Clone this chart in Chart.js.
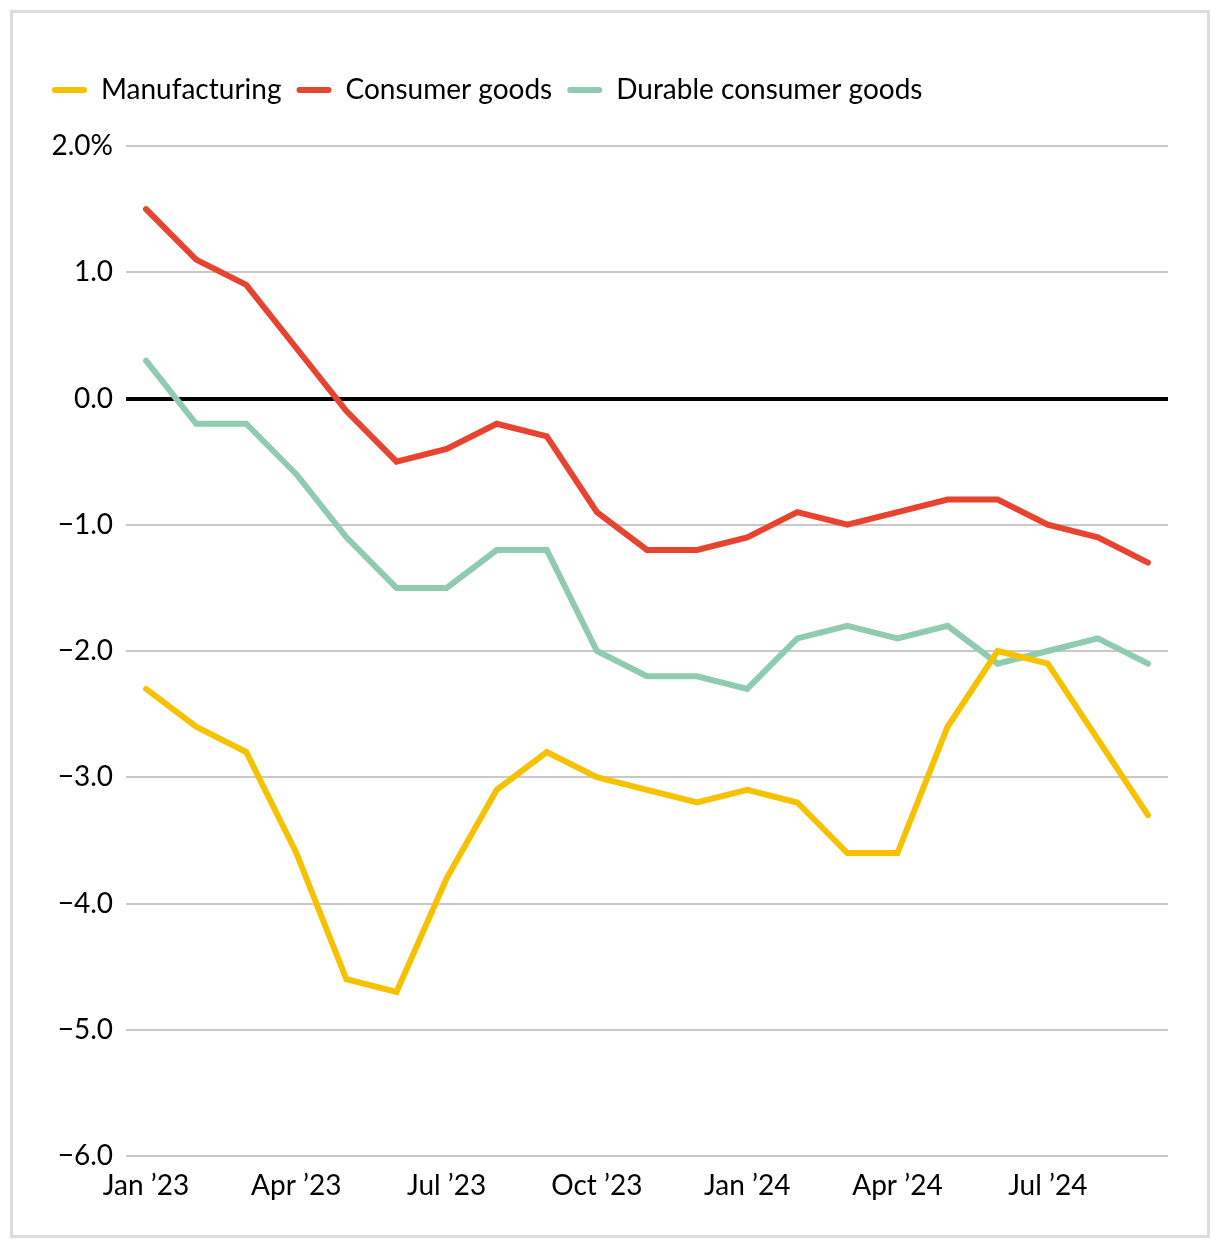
<!DOCTYPE html>
<html>
<head>
<meta charset="utf-8">
<script src="https://cdn.jsdelivr.net/npm/chart.js@4"></script>
<style>
  body { margin: 0; background: #fff; }
  #wrap {
    position: absolute; left: 10px; top: 10px;
    width: 1194px; height: 1222px;
    border: 3px solid #dcdcdc;
  }
</style>
</head>
<body>
<div id="wrap"><canvas id="chart" width="1194" height="1222"></canvas></div>
<script>
const months = [
  "Jan ’23", "Feb ’23", "Mar ’23", "Apr ’23", "May ’23", "Jun ’23", "Jul ’23",
  "Aug ’23", "Sep ’23", "Oct ’23", "Nov ’23", "Dec ’23", "Jan ’24", "Feb ’24",
  "Mar ’24", "Apr ’24", "May ’24", "Jun ’24", "Jul ’24", "Aug ’24", "Sep ’24"];

// every third month gets a label
const tickMonths = [0, 3, 6, 9, 12, 15, 18];

const manufacturing = [-2.3, -2.6, -2.8, -3.6, -4.6, -4.7, -3.8, -3.1, -2.8, -3.0, -3.1,
  -3.2, -3.1, -3.2, -3.6, -3.6, -2.6, -2.0, -2.1, -2.7, -3.3];
const consumerGoods = [1.5, 1.1, 0.9, 0.4, -0.1, -0.5, -0.4, -0.2, -0.3, -0.9, -1.2,
  -1.2, -1.1, -0.9, -1.0, -0.9, -0.8, -0.8, -1.0, -1.1, -1.3];
const durableGoods = [0.3, -0.2, -0.2, -0.6, -1.1, -1.5, -1.5, -1.2, -1.2, -2.0, -2.2,
  -2.2, -2.3, -1.9, -1.8, -1.9, -1.8, -2.1, -2.0, -1.9, -2.1];

const FONT = "Lato";

const toPoints = vals => vals.map((v, i) => ({x: i, y: v}));

const mkSet = (label, vals, color) => ({
  label: label,
  data: toPoints(vals),
  borderColor: color,
  backgroundColor: color,
  borderWidth: 6,
  pointRadius: 0,
  tension: 0,
  borderCapStyle: 'round',
  borderJoinStyle: 'miter'
});

// legend needs extra room below it
const legendSpace = {
  id: 'legendSpace',
  beforeInit(chart) {
    const fit = chart.legend.fit;
    chart.legend.fit = function () {
      fit.bind(chart.legend)();
      this.height += 32;
    };
  }
};

new Chart(document.getElementById('chart').getContext('2d'), {
  type: 'line',
  data: {
    datasets: [
      mkSet("Manufacturing", manufacturing, "#f6c200"),
      mkSet("Consumer goods", consumerGoods, "#e8432e"),
      mkSet("Durable consumer goods", durableGoods, "#8ecbb0")
    ]
  },
  plugins: [legendSpace],
  options: {
    responsive: false,
    animation: false,
    layout: {padding: {left: 24, right: 39, top: 48, bottom: 0}},
    plugins: {
      tooltip: {enabled: false},
      legend: {
        position: 'top',
        align: 'start',
        labels: {
          font: {family: FONT, size: 28},
          color: '#000',
          boxWidth: 35,
          boxHeight: 6,
          padding: 15,
          generateLabels: chart => chart.data.datasets.map((ds, i) => ({
            text: ds.label,
            fillStyle: ds.borderColor,
            strokeStyle: ds.borderColor,
            lineWidth: 0,
            borderRadius: 3,
            hidden: false,
            datasetIndex: i
          }))
        }
      }
    },
    scales: {
      x: {
        type: 'linear',
        min: -0.4,
        max: 20.4,
        afterBuildTicks: axis => { axis.ticks = tickMonths.map(v => ({value: v})); },
        afterFit: axis => { axis.height = 79; },
        grid: {display: false, drawTicks: false},
        border: {display: false},
        ticks: {
          font: {family: FONT, size: 28},
          color: '#000',
          padding: 13,
          maxRotation: 0,
          autoSkip: false,
          callback: v => months[v]
        }
      },
      y: {
        min: -6,
        max: 2,
        afterFit: axis => { axis.width = 89; },
        ticks: {
          stepSize: 1,
          font: {family: FONT, size: 28},
          color: '#000',
          padding: 13,
          callback: v => {
            const s = Math.abs(v).toFixed(1);
            if (v === 2) return s + "%";
            return (v < 0 ? "\u2212" : "") + s;
          }
        },
        grid: {
          drawTicks: false,
          color: ctx => ctx.tick && ctx.tick.value === 0 ? '#000' : '#c8c8c8',
          lineWidth: ctx => ctx.tick && ctx.tick.value === 0 ? 4 : 2
        },
        border: {display: false}
      }
    }
  }
});
</script>
</body>
</html>
